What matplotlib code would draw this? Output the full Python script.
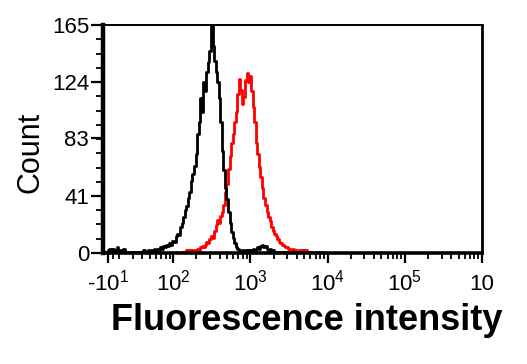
import numpy as np
import matplotlib
matplotlib.use("Agg")
import matplotlib.pyplot as plt
from matplotlib.ticker import FixedLocator, MultipleLocator

plt.rcParams["font.family"] = ["Liberation Sans", "DejaVu Sans"]
plt.rcParams["mathtext.fontset"] = "custom"
plt.rcParams["mathtext.rm"] = "Liberation Sans"
plt.rcParams["mathtext.it"] = "Liberation Sans:italic"

# bin centres in display (decade) units: 2 -> 10^2, 3 -> 10^3 ...
decade = np.round(np.arange(110, 401, 2) / 100, 2)

control = [0, 1, 0, 2, 3, 1, 3, 0, 2, 4,
           1, 2, 0, 3, 1, 0, 1, 0, 1, 0,
           1, 0, 1, 1, 0, 1, 2, 1, 1, 2,
           1, 2, 1, 3, 2, 3, 2, 4, 3, 5,
           4, 6, 5, 7, 6, 9, 8, 12, 14, 13,
           19, 22, 26, 31, 34, 40, 44, 52, 57, 63,
           72, 86, 95, 112, 102, 124, 117, 131, 138, 146,
           165, 150, 139, 131, 124, 112, 95, 74, 60, 47,
           39, 30, 22, 15, 11, 7, 4, 3, 2, 1,
           2, 1, 2, 1, 2, 1, 2, 3, 2, 3,
           4, 3, 5, 6, 4, 5, 3, 2, 3, 1,
           2, 1, 1, 0, 1, 0, 1, 0, 1, 0,
           1, 0, 0, 1, 0, 0, 1, 0, 0, 0,
           0, 0, 0, 0, 0, 0, 0, 0, 0, 0,
           0, 0, 0, 0, 0, 0]

stained = [0, 0, 0, 0, 0, 0, 0, 0, 0, 0,
           0, 0, 0, 0, 0, 0, 0, 0, 0, 0,
           0, 0, 0, 0, 0, 0, 0, 0, 0, 0,
           0, 0, 0, 0, 0, 0, 0, 0, 0, 0,
           0, 0, 0, 0, 0, 0, 0, 1, 0, 0,
           0, 1, 0, 1, 2, 1, 2, 1, 2, 2,
           2, 3, 2, 4, 5, 4, 6, 8, 7, 10,
           12, 11, 16, 20, 24, 22, 27, 30, 35, 44,
           50, 61, 70, 80, 86, 95, 102, 115, 126, 118,
           108, 113, 125, 130, 124, 128, 117, 106, 95, 80,
           72, 62, 55, 47, 40, 35, 30, 26, 23, 19,
           16, 14, 12, 10, 8, 7, 6, 5, 4, 4,
           3, 3, 2, 3, 2, 2, 1, 2, 1, 2,
           1, 2, 1, 1, 0, 1, 1, 0, 1, 0,
           1, 0, 1, 0, 0, 0]

x_ticks = [1.15, 2, 3, 4, 5, 6]
x_labels = ["-$10^{1}$", r"$10^{2}$", r"$10^{3}$", r"$10^{4}$", r"$10^{5}$", "10"]
y_ticks = [0, 41, 83, 124, 165]

fig = plt.figure(figsize=(5.27, 3.64), dpi=100)
ax = fig.add_axes([0.1954, 0.305, 0.719, 0.626])

ax.plot(decade, stained, color="#ff0000", lw=2.0, drawstyle="steps-mid", zorder=2)
ax.plot(decade, control, color="black", lw=2.0, drawstyle="steps-mid", zorder=3)

ax.set_xlim(1.09, 6.0)
ax.set_ylim(0, 165)

minor_x = [np.log10(k) + 1 for k in range(2, 10)] + [1.22]
minor_x += [np.log10(k) + d for d in range(2, 6) for k in range(2, 10)]
ax.xaxis.set_major_locator(FixedLocator(x_ticks))
ax.xaxis.set_minor_locator(FixedLocator(minor_x))
ax.set_xticklabels(x_labels)
ax.set_yticks(y_ticks)
ax.yaxis.set_minor_locator(MultipleLocator(165 / 16))

ax.tick_params(axis="x", which="major", direction="out", length=7, width=1.6,
               labelsize=16, pad=5)
ax.tick_params(axis="x", which="minor", direction="out", length=4, width=1.3)
ax.tick_params(axis="y", which="major", direction="out", length=9, width=1.6,
               labelsize=16, pad=1)
ax.tick_params(axis="y", which="minor", direction="out", length=5, width=1.3)
# last label has no exponent in the source, push it down to the same baseline
ax.xaxis.get_major_ticks()[-1].set_pad(8)

ax.spines["left"].set_linewidth(3.2)
ax.spines["bottom"].set_linewidth(2.6)
ax.spines["right"].set_linewidth(2.0)
ax.spines["top"].set_linewidth(1.4)

fig.text(0.057, 0.582, "Count", rotation=90, fontsize=22, ha="center", va="center")
fig.text(0.583, 0.093, "Fluorescence intensity", fontsize=26, fontweight="bold",
         ha="center", va="baseline")

fig.savefig("out.png", dpi=100)
